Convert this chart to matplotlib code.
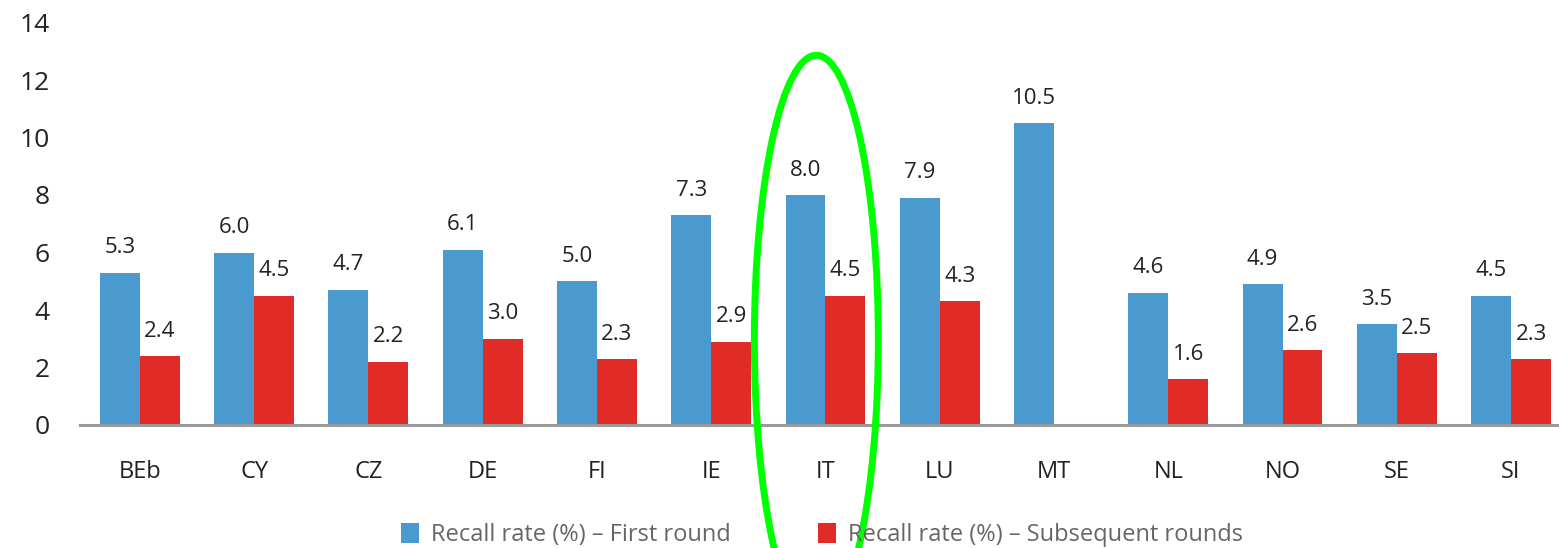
import matplotlib.pyplot as plt
from matplotlib.patches import Ellipse
import numpy as np

countries = ['BEb', 'CY', 'CZ', 'DE', 'FI', 'IE', 'IT', 'LU', 'MT', 'NL', 'NO', 'SE', 'SI']
first_round = [5.3, 6.0, 4.7, 6.1, 5.0, 7.3, 8.0, 7.9, 10.5, 4.6, 4.9, 3.5, 4.5]
subsequent_rounds = [2.4, 4.5, 2.2, 3.0, 2.3, 2.9, 4.5, 4.3, np.nan, 1.6, 2.6, 2.5, 2.3]
y_ticks = [0, 2, 4, 6, 8, 10, 12, 14]

blue = '#4a9acf'
red = '#e12b26'

plt.rcParams['font.family'] = ['Open Sans', 'DejaVu Sans']

fig = plt.figure(figsize=(15.59, 5.48), dpi=100)
ax = fig.add_axes([80 / 1559, 1 - 425 / 548, 1 - 80 / 1559, (425 - 22.5) / 548])

x = np.arange(len(countries))
w = 0.35
ax.bar(x - w / 2, first_round, w, color=blue, label='Recall rate (%) – First round')
ax.bar(x + w / 2, subsequent_rounds, w, color=red, label='Recall rate (%) – Subsequent rounds')

# value labels above bars
for i in range(len(countries)):
    ax.text(x[i] - w / 2, first_round[i] + 0.5, f'{first_round[i]:.1f}',
            ha='center', va='bottom', fontsize=16, color='#222222')
    if not np.isnan(subsequent_rounds[i]):
        ax.text(x[i] + w / 2, subsequent_rounds[i] + 0.5, f'{subsequent_rounds[i]:.1f}',
                ha='center', va='bottom', fontsize=16, color='#222222')

ax.set_xlim(-0.525, 12.42)
ax.set_ylim(0, 14)
ax.set_yticks(y_ticks)
ax.set_xticks(x)
ax.set_xticklabels(countries)
ax.tick_params(axis='y', length=0, pad=22, labelsize=19, labelcolor='#222222')
ax.tick_params(axis='x', length=0, pad=25, labelsize=17, labelcolor='#222222')
for s in ['top', 'right', 'left']:
    ax.spines[s].set_visible(False)
ax.spines['bottom'].set_color('#999999')
ax.spines['bottom'].set_linewidth(2.2)

# highlight ellipse around IT
ell = Ellipse((5.92, 2.96), 1.085, 19.8, fill=False, edgecolor='#00ff00',
              linewidth=5, clip_on=False, zorder=5)
ax.add_patch(ell)

fig.legend(loc='center', bbox_to_anchor=(822 / 1559, 1 - 535 / 548), ncol=2,
           frameon=False, fontsize=17, labelcolor='#666666', handlelength=0.75,
           handleheight=0.9, handletextpad=0.5, columnspacing=3.7)

fig.savefig('out.png', dpi=100)
